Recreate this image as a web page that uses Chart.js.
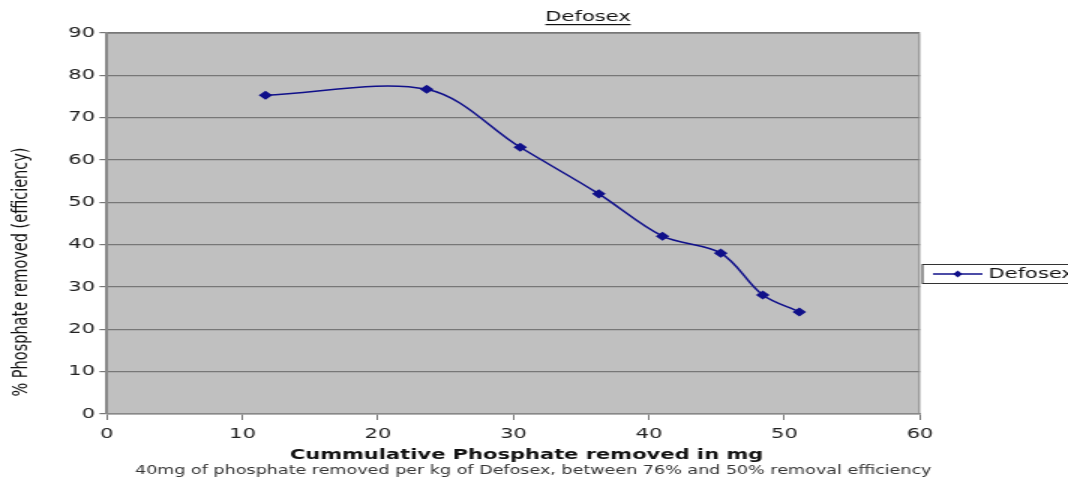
<!DOCTYPE html>
<html>
<head>
<meta charset="utf-8">
<script src="https://cdn.jsdelivr.net/npm/chart.js@4"></script>
<style>
  html, body { margin: 0; padding: 0; background: #fff; overflow: hidden; }
  #wrap { width: 712px; height: 478px; transform: scaleX(1.5); transform-origin: 0 0; }
</style>
</head>
<body>
<div id="wrap"><canvas id="chart" width="712" height="478"></canvas></div>
<script>
// cumulative phosphate removed (mg) and efficiency (%)
const cumulativeMg = [11.7, 23.6, 30.5, 36.3, 41.0, 45.3, 48.4, 51.1];
const efficiency = [75.3, 76.7, 63.0, 52.0, 42.0, 38.0, 28.1, 24.1];
const seriesName = 'Defosex';
const chartTitle = 'Defosex';
const xTitle = 'Cummulative Phosphate removed in mg';
const yTitle = '% Phosphate removed (efficiency)';
const footNote = '40mg of phosphate removed per kg of Defosex, between 76% and 50% removal efficiency';

const font = '"DejaVu Sans", Verdana, sans-serif';
const lineColor = '#10108a';

const decor = {
  id: 'decor',
  beforeDatasetsDraw(chart) {
    const { ctx, chartArea: a } = chart;
    ctx.save();
    ctx.strokeStyle = '#8a8a8a';
    ctx.lineWidth = 1;
    ctx.beginPath();
    ctx.moveTo(a.left, a.top + 0.5);
    ctx.lineTo(a.right - 0.5, a.top + 0.5);
    ctx.lineTo(a.right - 0.5, a.bottom);
    ctx.stroke();
    ctx.restore();
  },
  beforeDraw(chart) {
    const { ctx, chartArea: a } = chart;
    ctx.save();
    ctx.fillStyle = '#c0c0c0';
    ctx.fillRect(a.left, a.top, a.right - a.left, a.bottom - a.top);
    ctx.restore();
  },
  afterDraw(chart) {
    const ctx = chart.ctx;
    ctx.save();
    ctx.fillStyle = '#111';
    ctx.textAlign = 'center';
    ctx.textBaseline = 'middle';

    // title, underlined
    ctx.font = '14px ' + font;
    ctx.fillText(chartTitle, 392, 17);
    const tw = ctx.measureText(chartTitle).width;
    ctx.fillRect(392 - tw / 2, 24, tw, 1.2);

    // x axis title and note
    ctx.font = 'bold 14px ' + font;
    ctx.fillText(xTitle, 351, 455);
    ctx.font = '11.7px ' + font;
    ctx.fillStyle = '#333';
    ctx.fillText(footNote, 355.5, 471);

    // y axis title
    ctx.fillStyle = '#111';
    ctx.font = '14.5px ' + font;
    ctx.translate(14.5, 272);
    ctx.rotate(-Math.PI / 2);
    ctx.fillText(yTitle, 0, 0);
    ctx.restore();

    // legend
    ctx.save();
    ctx.fillStyle = '#fff';
    ctx.fillRect(615, 264.5, 120, 19);
    ctx.strokeStyle = '#333';
    ctx.lineWidth = 1;
    ctx.strokeRect(615, 264.5, 120, 19);
    ctx.strokeStyle = lineColor;
    ctx.lineWidth = 1.5;
    ctx.beginPath();
    ctx.moveTo(622, 274);
    ctx.lineTo(655, 274);
    ctx.stroke();
    ctx.fillStyle = lineColor;
    ctx.beginPath();
    ctx.moveTo(638.5, 270.5);
    ctx.lineTo(641.5, 274);
    ctx.lineTo(638.5, 277.5);
    ctx.lineTo(635.5, 274);
    ctx.closePath();
    ctx.fill();
    ctx.fillStyle = '#111';
    ctx.font = '14px ' + font;
    ctx.textAlign = 'left';
    ctx.textBaseline = 'middle';
    ctx.fillText(seriesName, 659, 274.5);
    ctx.restore();
  }
};

new Chart(document.getElementById('chart'), {
  type: 'line',
  data: {
    datasets: [{
      label: seriesName,
      data: cumulativeMg.map((x, i) => ({ x: x, y: efficiency[i] })),
      borderColor: lineColor,
      backgroundColor: lineColor,
      borderWidth: 1.5,
      pointStyle: 'rectRot',
      pointRadius: 3.5,
      pointHoverRadius: 3.5,
      tension: 0.33,
      fill: false
    }]
  },
  options: {
    responsive: false,
    animation: false,
    events: [],
    layout: { padding: { top: 33, right: 98.7, left: 0, bottom: 0 } },
    plugins: { legend: { display: false }, tooltip: { enabled: false }, title: { display: false } },
    scales: {
      x: {
        type: 'linear',
        min: 0, max: 60,
        afterFit: s => { s.height = 64; },
        ticks: { stepSize: 10, color: '#222', font: { family: font, size: 14 }, padding: 6, maxRotation: 0 },
        grid: { drawOnChartArea: false, color: '#777', tickLength: 6 },
        border: { color: '#888', width: 1.5 }
      },
      y: {
        min: 0, max: 90,
        afterFit: s => { s.width = 71.3; },
        ticks: { stepSize: 10, color: '#222', font: { family: font, size: 14 }, padding: 3 },
        grid: { color: '#777', lineWidth: 1.2, tickLength: 5 },
        border: { color: '#888', width: 2 }
      }
    }
  },
  plugins: [decor]
});
</script>
</body>
</html>
